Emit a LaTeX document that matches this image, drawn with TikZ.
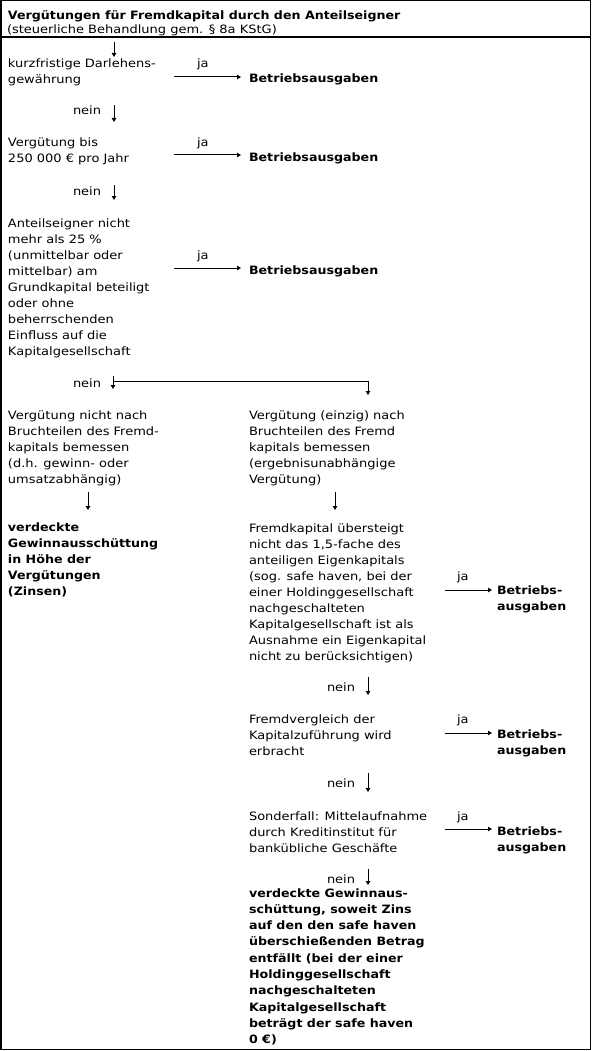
\documentclass[tikz,border=0pt]{standalone}
\usepackage{fontspec}
\usetikzlibrary{arrows.meta}
\newfontfamily\regf{DejaVu Sans}[FakeStretch=1.13]
\newfontfamily\bldf{DejaVu Sans}[FakeStretch=1.10]
\newcommand{\rfont}{\regf\fontsize{11.5}{16}\selectfont}
\newcommand{\bfont}{\bldf\bfseries\fontsize{11.5}{16}\selectfont}
\newcommand{\bfontw}{\bldf\bfseries\fontsize{11.5}{16.3}\selectfont}
\tikzset{
  txt/.style={anchor=north west, inner sep=0pt, outer sep=0pt, align=left, font=\rfont},
  bld/.style={txt, font=\bfont},
  bldw/.style={txt, font=\bfontw},
  arr/.style={line width=1pt, -{Triangle[length=4pt,width=4.5pt]}},
  frame/.style={line width=1.5pt}
}
\begin{document}
\begin{tikzpicture}[x=1pt,y=-1pt]
\useasboundingbox (0,0) rectangle (592,1051);
\draw[frame] (0.75,0.75) rectangle (590.25,1049.5);
\coordinate (hl) at (0,37);
\coordinate (hr) at (591,37);
\draw[line width=1.2pt] (hl) -- (hr);

% header
\node[bld] (title) at (8,8.8) {\strut Vergütungen für Fremdkapital durch den Anteilseigner};
\node[txt] (sub) at (7,22.8) {\strut (steuerliche Behandlung gem. § 8a KStG)};

% step 1
\coordinate (a1s) at (114,42); \coordinate (a1e) at (114,57);
\draw[arr] (a1s) -- (a1e);
\node[txt] (q1) at (8,56.8) {\strut kurzfristige Darlehens-\\gewährung};
\node[txt] (ja1) at (197,56.8) {\strut ja};
\coordinate (j1s) at (174,77); \coordinate (j1e) at (241,77);
\draw[arr] (j1s) -- (j1e);
\node[bld] (r1) at (249,71.8) {\strut Betriebsausgaben};
\node[txt] (n1) at (73,103.8) {\strut nein};
\coordinate (a2s) at (114,105); \coordinate (a2e) at (114,122);
\draw[arr] (a2s) -- (a2e);

% step 2
\node[txt] (q2) at (8,135.8) {\strut Vergütung bis\\250 000 € pro Jahr};
\node[txt] (ja2) at (197,135.8) {\strut ja};
\coordinate (j2s) at (174,155); \coordinate (j2e) at (241,155);
\draw[arr] (j2s) -- (j2e);
\node[bld] (r2) at (249,150.8) {\strut Betriebsausgaben};
\node[txt] (n2) at (73,183.8) {\strut nein};
\coordinate (a3s) at (114,185); \coordinate (a3e) at (114,200);
\draw[arr] (a3s) -- (a3e);

% step 3
\node[txt] (q3) at (8,215.8) {\strut Anteilseigner nicht\\mehr als 25 \%\\(unmittelbar oder\\mittelbar) am\\Grundkapital beteiligt\\oder ohne\\beherrschenden\\Einfluss auf die\\Kapitalgesellschaft};
\node[txt] (ja3) at (197,247.8) {\strut ja};
\coordinate (j3s) at (174,268); \coordinate (j3e) at (241,268);
\draw[arr] (j3s) -- (j3e);
\node[bld] (r3) at (249,262.8) {\strut Betriebsausgaben};
\node[txt] (n3) at (73,375.8) {\strut nein};
\coordinate (a4s) at (113,376); \coordinate (a4e) at (113,389);
\draw[arr] (a4s) -- (a4e);
\coordinate (bs) at (113,381); \coordinate (bk) at (368,381); \coordinate (be) at (368,395);
\draw[arr] (bs) -- (bk) -- (be);

% split
\node[txt] (q4l) at (8,407.8) {\strut Vergütung nicht nach\\Bruchteilen des Fremd-\\kapitals bemessen\\(d.h. gewinn- oder\\umsatzabhängig)};
\node[txt] (q4r) at (249,407.8) {\strut Vergütung (einzig) nach\\Bruchteilen des Fremd\\kapitals bemessen\\(ergebnisunabhängige\\Vergütung)};
\coordinate (a5ls) at (88,492); \coordinate (a5le) at (88,510);
\draw[arr] (a5ls) -- (a5le);
\coordinate (a5rs) at (335,492); \coordinate (a5re) at (335,510);
\draw[arr] (a5rs) -- (a5re);

\node[bld] (resl) at (8,519.8) {\strut verdeckte\\Gewinnausschüttung\\in Höhe der\\Vergütungen\\(Zinsen)};

% step 5
\node[txt] (q5) at (249,520.8) {\strut Fremdkapital übersteigt\\nicht das 1,5-fache des\\anteiligen Eigenkapitals\\(sog. safe haven, bei der\\einer Holdinggesellschaft\\nachgeschalteten\\Kapitalgesellschaft ist als\\Ausnahme ein Eigenkapital\\nicht zu berücksichtigen)};
\node[txt] (ja4) at (457,568.8) {\strut ja};
\coordinate (j4s) at (445,590); \coordinate (j4e) at (492,590);
\draw[arr] (j4s) -- (j4e);
\node[bld] (r4) at (497,582.8) {\strut Betriebs-\\ausgaben};
\node[txt] (n4) at (327,679.8) {\strut nein};
\coordinate (a6s) at (368,677); \coordinate (a6e) at (368,695);
\draw[arr] (a6s) -- (a6e);

% step 6
\node[txt] (q6) at (249,711.8) {\strut Fremdvergleich der\\Kapitalzuführung wird\\erbracht};
\node[txt] (ja5) at (457,711.8) {\strut ja};
\coordinate (j5s) at (445,733); \coordinate (j5e) at (492,733);
\draw[arr] (j5s) -- (j5e);
\node[bld] (r5) at (497,726.8) {\strut Betriebs-\\ausgaben};
\node[txt] (n5) at (327,775.8) {\strut nein};
\coordinate (a7s) at (368,773); \coordinate (a7e) at (368,792);
\draw[arr] (a7s) -- (a7e);

% step 7
\node[txt] (q7) at (249,808.8) {\strut Sonderfall: Mittelaufnahme\\durch Kreditinstitut für\\bankübliche Geschäfte};
\node[txt] (ja6) at (457,808.8) {\strut ja};
\coordinate (j6s) at (445,829); \coordinate (j6e) at (492,829);
\draw[arr] (j6s) -- (j6e);
\node[bld] (r6) at (497,823.8) {\strut Betriebs-\\ausgaben};
\node[txt] (n6) at (327,871.8) {\strut nein};
\coordinate (a8s) at (368,869); \coordinate (a8e) at (368,885);
\draw[arr] (a8s) -- (a8e);

\node[bldw] (resf) at (249,885.6) {\strut verdeckte Gewinnaus-\\schüttung, soweit Zins\\auf den den safe haven\\überschießenden Betrag\\entfällt (bei der einer\\Holdinggesellschaft\\nachgeschalteten\\Kapitalgesellschaft\\beträgt der safe haven\\0 €)};
\end{tikzpicture}
\end{document}
